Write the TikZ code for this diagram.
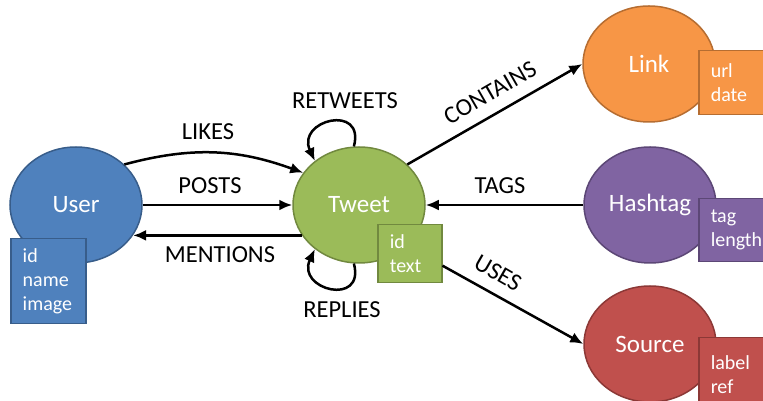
\documentclass[tikz,border=0pt]{standalone}
\usepackage{fontspec}
\setmainfont{Carlito}
\usetikzlibrary{shapes.geometric,arrows.meta,positioning}

\definecolor{userfill}{HTML}{4F81BD}
\definecolor{userline}{HTML}{385D8A}
\definecolor{tweetfill}{HTML}{9BBB59}
\definecolor{tweetline}{HTML}{71893F}
\definecolor{linkfill}{HTML}{F79646}
\definecolor{linkline}{HTML}{B66D31}
\definecolor{tagfill}{HTML}{8064A2}
\definecolor{tagline}{HTML}{5C4776}
\definecolor{srcfill}{HTML}{C0504D}
\definecolor{srcline}{HTML}{8C3836}

\tikzset{
	entity/.style={ellipse, line width=1.5pt, minimum width=132pt, minimum height=116pt, inner sep=0pt, text=white, font=\fontsize{25}{30}\selectfont},
	attrbox/.style={rectangle, line width=1.5pt, anchor=north west, text=white, align=left, inner xsep=12pt, inner ysep=0pt, minimum height=#1, font=\fontsize{20}{24}\selectfont},
	rel/.style={font=\fontsize{24.5}{29}\selectfont},
	conn/.style={line width=2.5pt, -{Latex[length=13pt,width=11pt]}},
}

\begin{document}
\begin{tikzpicture}[x=1pt,y=1pt]
		\useasboundingbox (0,0) rectangle (763,401);
		\clip (0,0) rectangle (763,401);
		% entities
		\node[entity, fill=userfill, draw=userline] (user) at (76,196) {User};
		\node[entity, fill=tweetfill, draw=tweetline] (tweet) at (359,196) {Tweet};
		\node[entity, fill=linkfill, draw=linkline] (link) at (649,337) {Link};
		\node[entity, fill=tagfill, draw=tagline] (hashtag) at (650,196) {Hashtag};
		\node[entity, fill=srcfill, draw=srcline] (source) at (650,57) {Source};
		% properties
		\node[attrbox=85pt, text width=51pt, fill=userfill, draw=userline] (userattr) at (10,163) {id\\name\\image};
		\node[attrbox=58pt, text width=40pt, fill=tweetfill, draw=tweetline] (tweetattr) at (377,177) {id\\text};
		\node[attrbox=64pt, text width=48pt, fill=linkfill, draw=linkline] (linkattr) at (698,351) {url\\date};
		\node[attrbox=63pt, text width=48pt, fill=tagfill, draw=tagline] (hashtagattr) at (698,203) {tag\\length};
		\node[attrbox=73pt, text width=48pt, fill=srcfill, draw=srcline] (sourceattr) at (698,64) {label\\ref};
		% relationships
		\draw[conn] (user.40) to[out=15, in=160] (tweet.150);
		\draw[conn] (user.east) -- (tweet.west);
		\draw[conn] (tweet.208) -- (user.-28);
		\draw[conn] (tweet.95) .. controls +(75:45) and +(115:45) .. (tweet.135);
		\draw[conn] (tweet.-95) .. controls +(-75:45) and +(-115:45) .. (tweet.-135);
		\draw[conn] (tweet.40) -- (link.west);
		\draw[conn] (hashtag.west) -- (tweet.east);
		\draw[conn] (tweetattr.-20) -- (source.west);
		% labels
		\node[rel] (likes) at (208,269) {LIKES};
		\node[rel] (posts) at (210,215) {POSTS};
		\node[rel] (mentions) at (220,146) {MENTIONS};
		\node[rel] (retweets) at (345,300) {RETWEETS};
		\node[rel] (replies) at (342,91) {REPLIES};
		\node[rel, rotate=30] (contains) at (490,308) {CONTAINS};
		\node[rel] (tags) at (500,215) {TAGS};
		\node[rel, rotate=-30] (uses) at (498,128) {USES};
	\end{tikzpicture}
\end{document}
